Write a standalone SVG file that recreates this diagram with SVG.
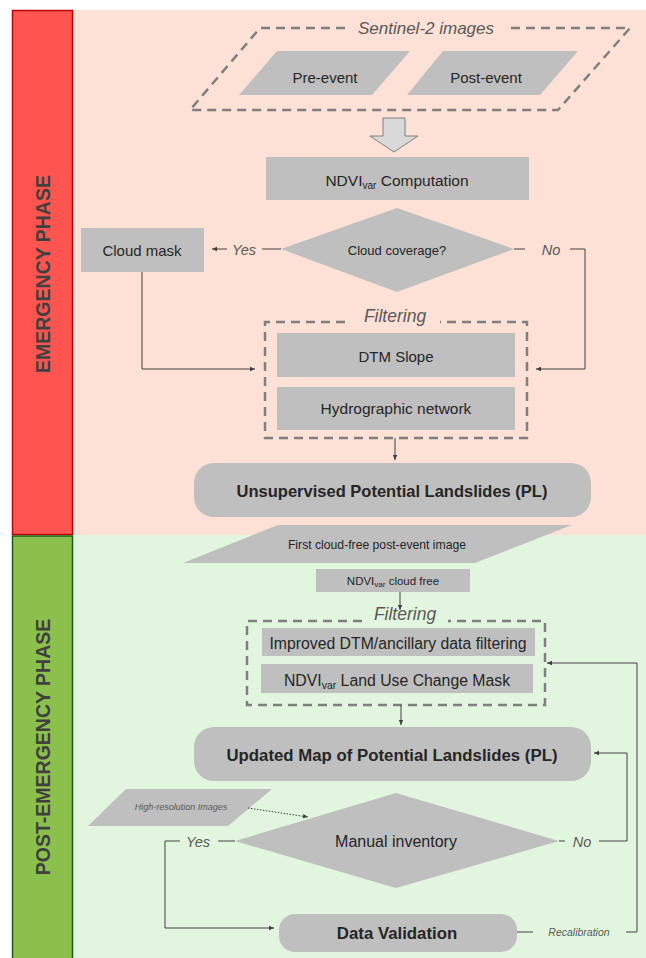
<svg xmlns="http://www.w3.org/2000/svg" width="646" height="958" viewBox="0 0 646 958">
<defs>
<marker id="ah" markerWidth="6" markerHeight="6" refX="5" refY="3" orient="auto" markerUnits="userSpaceOnUse">
<path d="M0,0.8 L5,3 L0,5.2 Z" fill="#404040"/>
</marker>
<style>
.box{fill:#BFBFBF;}
.dash{fill:none;stroke:#7F7F7F;stroke-width:2.5;stroke-dasharray:9 6;}
.t{font-family:"Liberation Sans",Arial,sans-serif;fill:#262626;text-anchor:middle;}
.b{font-weight:bold;}
.i{font-style:italic;fill:#595959;}
.c{fill:none;stroke:#404040;stroke-width:1;}
.side{font-family:"Liberation Sans",Arial,sans-serif;font-weight:bold;fill:#404040;text-anchor:middle;font-size:19.5px;}
</style>
</defs>
<rect x="0" y="0" width="646" height="958" fill="#FFFFFF"/>
<rect x="73" y="10" width="573" height="525" fill="#FDE1D6"/>
<rect x="73" y="535" width="573" height="423" fill="#E2F6DF"/>

<g id="emergency-phase">
<rect x="12.5" y="10.5" width="60" height="524" fill="#FF5550" stroke="#C00000" stroke-width="1.5"/>
<text class="side" transform="translate(50,274) rotate(-90)">EMERGENCY PHASE</text>
</g>
<g id="post-emergency-phase">
<rect x="12.5" y="536" width="60" height="430" fill="#8CC04C" stroke="#16611A" stroke-width="1.5"/>
<text class="side" transform="translate(50,747) rotate(-90)">POST-EMERGENCY PHASE</text>
</g>

<g id="sentinel">
<path class="dash" d="M345,28 H260 L190,110 H558 L630,28 H505"/>
<text class="t i" x="426" y="34" font-size="17">Sentinel-2 images</text>
</g>
<g id="pre-event">
<polygon class="box" points="277,51 410,51 372,95 239,95"/>
<text class="t" x="325" y="83" font-size="15">Pre-event</text>
</g>
<g id="post-event">
<polygon class="box" points="443,51 578,51 540,95 407,95"/>
<text class="t" x="486" y="83" font-size="15">Post-event</text>
</g>
<g id="block-arrow">
<polygon points="383,118 405,118 405,136 418,136 394,152 370,136 383,136" fill="#D9D9D9" stroke="#7F7F7F" stroke-width="1"/>
</g>
<g id="ndvi-computation">
<rect class="box" x="266" y="157" width="263" height="43"/>
<text class="t" x="397" y="185.5" font-size="15.5">NDVI<tspan font-size="10" dy="3">var</tspan><tspan dy="-3"> Computation</tspan></text>
</g>
<g id="cloud-coverage">
<polygon class="box" points="397,208 514,249 397,292 281,249"/>
<text class="t" x="397" y="255" font-size="13">Cloud coverage?</text>
</g>
<g id="cloud-mask">
<rect class="box" x="81" y="228" width="123" height="44"/>
<text class="t" x="142" y="256" font-size="15">Cloud mask</text>
</g>
<g id="filtering-1">
<path class="dash" d="M345,322 H265 V438 H527 V322 H440"/>
<text class="t i" x="395" y="322" font-size="17.5">Filtering</text>
</g>
<g id="dtm-slope">
<rect class="box" x="277" y="333" width="238" height="44"/>
<text class="t" x="396" y="362" font-size="15">DTM Slope</text>
</g>
<g id="hydrographic">
<rect class="box" x="277" y="387" width="238" height="43"/>
<text class="t" x="396" y="414" font-size="15.5">Hydrographic network</text>
</g>
<g id="unsupervised-pl">
<rect class="box" x="194" y="463" width="397" height="54" rx="20"/>
<text class="t b" x="392" y="497" font-size="16.5">Unsupervised Potential Landslides (PL)</text>
</g>
<g id="first-cloud-free">
<polygon class="box" points="278,525 572,525 475,563 183,563"/>
<text class="t" x="377" y="549" font-size="12.2">First cloud-free post-event image</text>
</g>
<g id="ndvi-cloud-free">
<rect class="box" x="316" y="569" width="154" height="23"/>
<text class="t" x="393" y="585" font-size="11.5">NDVI<tspan font-size="8" dy="2">var</tspan><tspan dy="-2"> cloud free</tspan></text>
</g>
<g id="filtering-2">
<path class="dash" d="M362,621 H247 V705 H545 V621 H448"/>
<text class="t i" x="405" y="620" font-size="17.5">Filtering</text>
</g>
<g id="improved-dtm">
<rect class="box" x="262" y="628" width="273" height="28"/>
<text class="t" x="398" y="648.5" font-size="15.8">Improved DTM/ancillary data filtering</text>
</g>
<g id="land-use-mask">
<rect class="box" x="261" y="664" width="272" height="29"/>
<text class="t" x="397" y="685.5" font-size="15.8">NDVI<tspan font-size="10.5" dy="3">var</tspan><tspan dy="-3"> Land Use Change Mask</tspan></text>
</g>
<g id="updated-map">
<rect class="box" x="194" y="727" width="397" height="54" rx="20"/>
<text class="t b" x="392" y="761" font-size="16.8">Updated Map of Potential Landslides (PL)</text>
</g>
<g id="high-res">
<polygon class="box" points="126,789 272,789 228,826 88,826"/>
<text class="t i" x="181" y="810" font-size="9" fill="#404040">High-resolution Images</text>
</g>
<g id="manual-inventory">
<polygon class="box" points="396,793 559,841 396,888 235,841"/>
<text class="t" x="396" y="847" font-size="16">Manual inventory</text>
</g>
<g id="data-validation">
<rect class="box" x="279" y="914" width="238" height="38" rx="16"/>
<text class="t b" x="397" y="939" font-size="16.8">Data Validation</text>
</g>

<g id="connectors">
<path class="c" d="M281,249 H262"/>
<text class="t i" x="244" y="255" font-size="14.5">Yes</text>
<path class="c" d="M227,249 H212" marker-end="url(#ah)"/>
<path class="c" d="M514,249 H525"/>
<text class="t i" x="551" y="255" font-size="14.5">No</text>
<path class="c" d="M570,249 H585 V369 H536" marker-end="url(#ah)"/>
<path class="c" d="M142,272 V369 H255" marker-end="url(#ah)"/>
<path class="c" d="M395,438 V460" marker-end="url(#ah)"/>
<path class="c" d="M400,592 V610" marker-end="url(#ah)"/>
<path class="c" d="M401,705 V725" marker-end="url(#ah)"/>
<path class="c" d="M248,808 L308,817" stroke-dasharray="1.5 1.5" marker-end="url(#ah)"/>
<path class="c" d="M235,841 H218"/>
<text class="t i" x="198" y="847" font-size="14.5">Yes</text>
<path class="c" d="M180,841 H165 V928 H274" marker-end="url(#ah)"/>
<path class="c" d="M559,841 H565"/>
<text class="t i" x="582" y="847" font-size="14.5">No</text>
<path class="c" d="M599,841 H627 V753 H594" marker-end="url(#ah)"/>
<path class="c" d="M517,932 H533"/>
<text class="t i" x="579" y="936" font-size="10.5">Recalibration</text>
<path class="c" d="M626,932 H637 V663 H547" marker-end="url(#ah)"/>
</g>
</svg>
